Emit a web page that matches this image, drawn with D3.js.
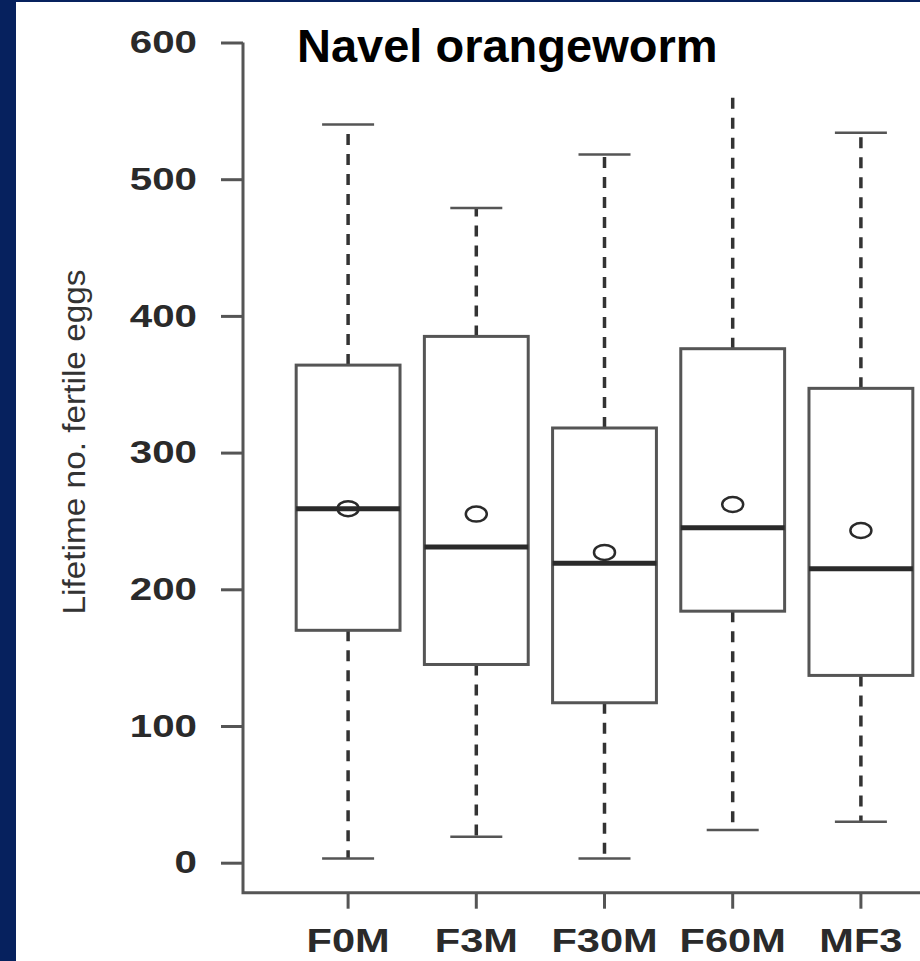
<!DOCTYPE html>
<html>
<head>
<meta charset="utf-8">
<script src="https://cdn.jsdelivr.net/npm/d3@7"></script>
<style>
  body { margin: 0; background: #06215e; }
  svg { display: block; }
</style>
</head>
<body>
<div id="chart"></div>
<script>
// values
const groups = ["F0M", "F3M", "F30M", "F60M", "MF3"];
const whiskerLow = [3, 19, 3, 24, 30];
const q1 = [170, 145, 117, 184, 137];
const median = [259, 231, 219, 245, 215];
const q3 = [364, 385, 318, 376, 347];
const whiskerHigh = [540, 479, 518, 585, 534];
const means = [259, 255, 227, 262, 243];
const yTicks = [0, 100, 200, 300, 400, 500, 600];

const width = 920, height = 961;
const margin = { left: 243, bottom: 892.7 };
const stretch = 1.26; // the picture is stretched sideways

const data = groups.map((g, i) => ({
  name: g, lo: whiskerLow[i], q1: q1[i], med: median[i],
  q3: q3[i], hi: whiskerHigh[i], mean: means[i]
}));

const svg = d3.select("#chart")
  .append("svg")
  .attr("width", width)
  .attr("height", height);

// navy frame + white panel
svg.append("rect").attr("width", width).attr("height", height).attr("fill", "#06215e");
svg.append("rect").attr("x", 16).attr("y", 2)
  .attr("width", width - 16).attr("height", height - 2).attr("fill", "#ffffff");

let xScale = d3.scaleBand()
  .domain(groups)
  .range([284, 925])
  .paddingInner(0.19)
  .paddingOuter(0.095);

let yScale = d3.scaleLinear()
  .domain([0, 600])
  .range([862.7, 42.5]);

const font = "'Liberation Sans', Arial, sans-serif";
const grey = "#555";

// y axis
const yAxis = svg.append("g")
  .attr("transform", `translate(${margin.left}, 0)`)
  .call(d3.axisLeft(yScale).tickValues(yTicks).tickSize(22).tickPadding(0).tickSizeOuter(0));
yAxis.select(".domain").remove();
yAxis.selectAll(".tick line").attr("stroke", grey).attr("stroke-width", 3);
yAxis.selectAll(".tick text")
  .attr("x", -46 / stretch)
  .attr("transform", `scale(${stretch},1)`)
  .attr("font-family", font)
  .attr("font-weight", "bold")
  .attr("font-size", 32)
  .attr("fill", "#2a2a2a");

// x axis
const xAxis = svg.append("g")
  .attr("transform", `translate(0, ${margin.bottom})`)
  .call(d3.axisBottom(xScale).tickSize(16).tickSizeOuter(0));
xAxis.select(".domain").remove();
xAxis.selectAll(".tick line").attr("stroke", grey).attr("stroke-width", 3);
xAxis.selectAll(".tick text")
  .attr("y", 59)
  .attr("dy", 0)
  .attr("transform", `scale(${stretch},1)`)
  .attr("font-family", font)
  .attr("font-weight", "bold")
  .attr("font-size", 33)
  .attr("fill", "#2a2a2a");

// L shaped frame
svg.append("path")
  .attr("d", `M${margin.left},${yScale(600)}V${margin.bottom}H${width}`)
  .attr("fill", "none")
  .attr("stroke", grey)
  .attr("stroke-width", 3);

const boxes = svg.selectAll(".box")
  .data(data)
  .enter()
  .append("g")
  .attr("class", "box");

const cx = (d) => xScale(d.name) + xScale.bandwidth() / 2;

// whiskers
boxes.append("line")
  .attr("x1", cx).attr("x2", cx)
  .attr("y1", (d) => yScale(d.q3)).attr("y2", (d) => yScale(d.hi))
  .attr("stroke", "#333").attr("stroke-width", 3.5).attr("stroke-dasharray", "11,9");
boxes.append("line")
  .attr("x1", cx).attr("x2", cx)
  .attr("y1", (d) => yScale(d.q1)).attr("y2", (d) => yScale(d.lo))
  .attr("stroke", "#333").attr("stroke-width", 3.5).attr("stroke-dasharray", "11,9");

// whisker caps
["hi", "lo"].forEach((k) => {
  boxes.append("line")
    .attr("x1", (d) => cx(d) - 26).attr("x2", (d) => cx(d) + 26)
    .attr("y1", (d) => yScale(d[k])).attr("y2", (d) => yScale(d[k]))
    .attr("stroke", grey).attr("stroke-width", 2.5);
});

// box
boxes.append("rect")
  .attr("x", (d) => xScale(d.name))
  .attr("y", (d) => yScale(d.q3))
  .attr("width", xScale.bandwidth())
  .attr("height", (d) => yScale(d.q1) - yScale(d.q3))
  .attr("fill", "#ffffff")
  .attr("stroke", grey)
  .attr("stroke-width", 3);

// median
boxes.append("line")
  .attr("x1", (d) => xScale(d.name)).attr("x2", (d) => xScale(d.name) + xScale.bandwidth())
  .attr("y1", (d) => yScale(d.med)).attr("y2", (d) => yScale(d.med))
  .attr("stroke", "#2a2a2a").attr("stroke-width", 5);

// mean
boxes.append("ellipse")
  .attr("cx", cx)
  .attr("cy", (d) => yScale(d.mean))
  .attr("rx", 10.5).attr("ry", 7.5)
  .attr("fill", "none")
  .attr("stroke", "#2a2a2a")
  .attr("stroke-width", 2.5);

// title sits on a white patch that hides the top of the tallest whisker
svg.append("rect")
  .attr("x", 280).attr("y", 2)
  .attr("width", 480).attr("height", 94)
  .attr("fill", "#ffffff");
svg.append("text")
  .attr("x", 297).attr("y", 62)
  .attr("font-family", font)
  .attr("font-weight", "bold")
  .attr("font-size", 47)
  .attr("fill", "#000")
  .text("Navel orangeworm");

// y label
svg.append("text")
  .attr("transform", "translate(85, 442) rotate(-90)")
  .attr("text-anchor", "middle")
  .attr("font-family", font)
  .attr("font-size", 31)
  .attr("textLength", 345)
  .attr("lengthAdjust", "spacingAndGlyphs")
  .attr("fill", "#333")
  .text("Lifetime no. fertile eggs");
</script>
</body>
</html>
